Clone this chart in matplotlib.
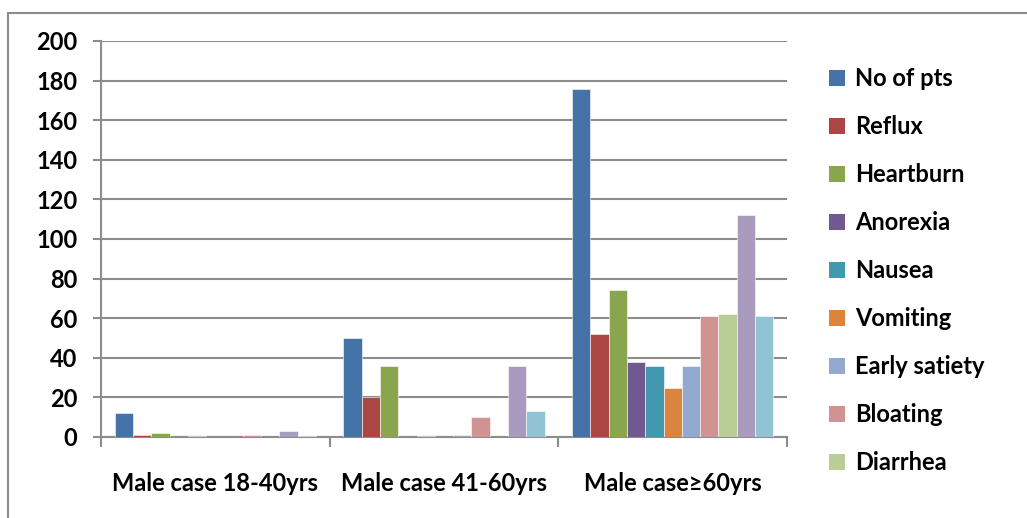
import matplotlib.pyplot as plt
import numpy as np
from matplotlib.patches import Patch, Rectangle

plt.rcParams['font.family'] = ['Lato', 'DejaVu Sans']
plt.rcParams['font.weight'] = 'bold'

groups = ['Male case 18-40yrs', 'Male case 41-60yrs', 'Male case\u226560yrs']
series = ['No of pts', 'Reflux', 'Heartburn', 'Anorexia', 'Nausea', 'Vomiting',
          'Early satiety', 'Bloating', 'Diarrhea', 'Series 10', 'Series 11']
values = [
    [12, 50, 176],   # No of pts
    [1, 20, 52],     # Reflux
    [2, 36, 74],     # Heartburn
    [0, 0, 38],      # Anorexia
    [0.5, 0.5, 36],  # Nausea
    [0, 0, 25],      # Vomiting
    [0, 1, 36],      # Early satiety
    [1, 10, 61],     # Bloating
    [0, 0, 62],      # Diarrhea
    [3, 36, 112],    # Series 10
    [0.5, 13, 61],   # Series 11
]
colors = ['#4572A7', '#AA4643', '#89A54E', '#71588F', '#4198AF', '#DB843D',
          '#93A9CF', '#D19392', '#B9CD96', '#A99BBD', '#92C3D4']

fig = plt.figure(figsize=(10.27, 5.18), dpi=100)
ax = fig.add_axes([101/1027, 1-437/518, (787-101)/1027, (437-41)/518])

# chart area frame (cut off at right and bottom)
fig.patches.append(Rectangle((8/1027, -0.1), 1.2, 1.1-13/518, transform=fig.transFigure,
                             fill=False, edgecolor='#8c8c8c', linewidth=1.5))

x = np.arange(len(groups))
n = len(series)
width = 0.88 / n
for i in range(n):
    ax.bar(x - 0.44 + width*(i+0.5), values[i], width, color=colors[i],
           edgecolor='white', linewidth=0.4, label=series[i], zorder=3)

ax.set_xlim(-0.5, 2.5)
ax.set_ylim(0, 200)
ax.set_yticks(range(0, 201, 20))
ax.yaxis.grid(True, color='#8c8c8c', linewidth=1.5, zorder=0)
for s in ['top', 'right']:
    ax.spines[s].set_visible(False)
for s in ['left', 'bottom']:
    ax.spines[s].set_color('#8c8c8c')
    ax.spines[s].set_linewidth(1.5)
ax.tick_params(axis='y', colors='#8c8c8c', length=6, width=1.5, pad=11, labelsize=17, labelcolor='black')
ax.set_xticks(x)
ax.set_xticklabels(groups)
ax.set_xticks([-0.5, 0.5, 1.5, 2.5], minor=True)
ax.tick_params(axis='x', which='major', length=0, pad=25, labelsize=17)
ax.tick_params(axis='x', which='minor', length=7, width=1.5, color='#8c8c8c')

# legend only shows the first nine series (rest cut off in the original)
handles = [Patch(facecolor=colors[i], label=series[i]) for i in range(9)]
fig.legend(handles=handles, loc='upper left', bbox_to_anchor=(808/1027, 1-46/518),
           frameon=False, fontsize=17, handlelength=0.65, handleheight=0.65,
           handletextpad=0.45, labelspacing=1.06)

fig.savefig('out.png', dpi=100)
